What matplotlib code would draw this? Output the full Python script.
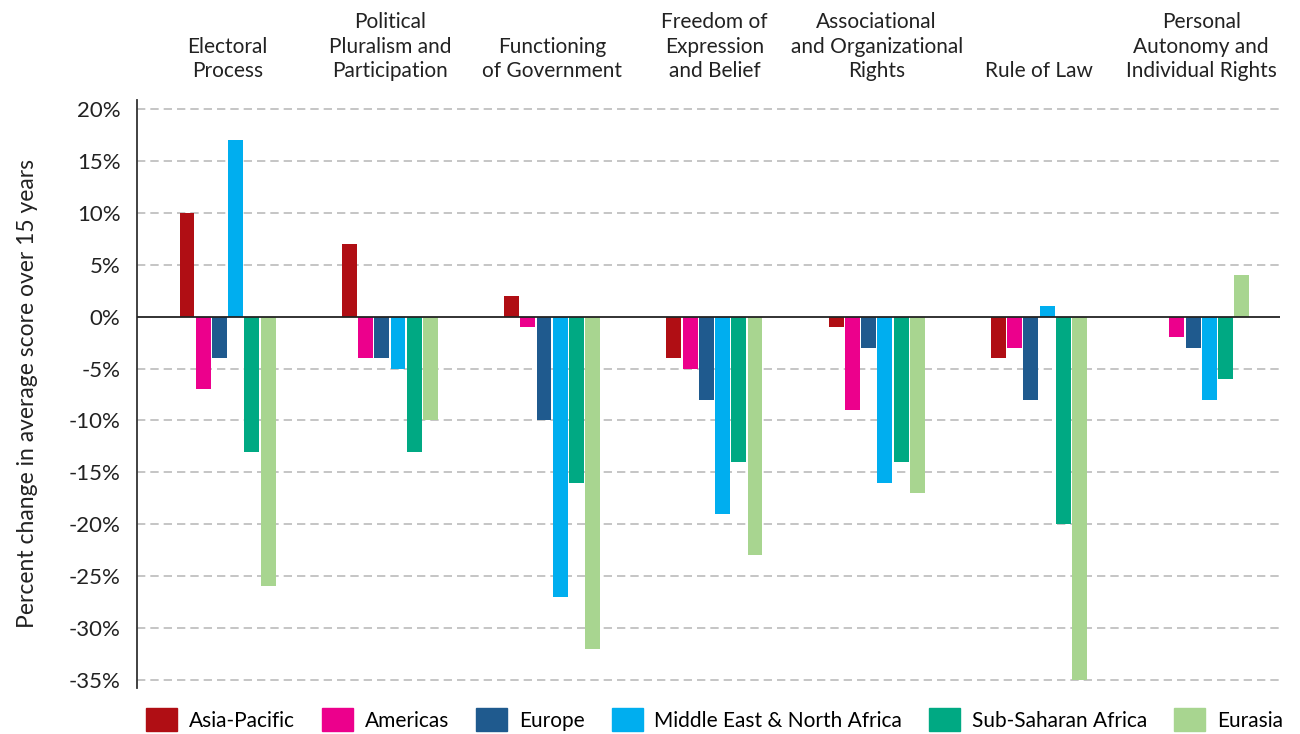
import numpy as np
import matplotlib.pyplot as plt
from matplotlib.patches import Patch

categories = ['Electoral\nProcess', 'Political\nPluralism and\nParticipation',
              'Functioning\nof Government', 'Freedom of\nExpression\nand Belief',
              'Associational\nand Organizational\nRights', 'Rule of Law',
              'Personal\nAutonomy and\nIndividual Rights']
regions = ['Asia-Pacific', 'Americas', 'Europe', 'Middle East & North Africa',
           'Sub-Saharan Africa', 'Eurasia']
asia_pacific = [10, 7, 2, -4, -1, -4, 0]
americas = [-7, -4, -1, -5, -9, -3, -2]
europe = [-4, -4, -10, -8, -3, -8, -3]
mena = [17, -5, -27, -19, -16, 1, -8]
ssa = [-13, -13, -16, -14, -14, -20, -6]
eurasia = [-26, -10, -32, -23, -17, -35, 4]
series = [asia_pacific, americas, europe, mena, ssa, eurasia]
colors = ['#B00E14', '#EC008C', '#1F5A8E', '#00AEEF', '#00A983', '#A8D590']
yticks = list(range(20, -40, -5))

plt.rcParams['font.family'] = ['Lato', 'DejaVu Sans']
fig = plt.figure(figsize=(13, 7.34), dpi=100)
ax = fig.add_axes([0.1054, 0.0627, 0.8792, 0.8011])

x = np.arange(len(categories))
step = 0.1
for i, (vals, c) in enumerate(zip(series, colors)):
    ax.bar(x + (i - 2.5) * step, vals, width=0.092, color=c, zorder=3)

ax.set_xlim(-0.558, 6.485)
ax.set_ylim(-35.8, 20.9)
ax.set_yticks(yticks)
ax.set_yticklabels([f'{t}%' for t in yticks], fontsize=16, color='#222222')
ax.tick_params(axis='y', length=0, pad=12)
ax.set_xticks([])
for t in yticks:
    if t != 0:
        ax.axhline(t, color='#BBBBBB', lw=1.2, ls=(0, (5, 3)), zorder=1)
ax.axhline(0, color='#222222', lw=1.3, zorder=4)
for s in ['top', 'right', 'bottom']:
    ax.spines[s].set_visible(False)
ax.spines['left'].set_color('#333333')
ax.spines['left'].set_linewidth(1.3)
ax.set_ylabel('Percent change in average score over 15 years', fontsize=16.5,
              color='#222222', labelpad=22)

for xi, cat in zip(x, categories):
    ax.text(xi, 22.7, cat, ha='center', va='bottom', fontsize=15,
            color='#222222', linespacing=1.3)

handles = [Patch(color=c) for c in colors]
fig.legend(handles, regions, loc='lower left', bbox_to_anchor=(0.098, -0.022),
           ncol=6, frameon=False, fontsize=15, handlelength=1.5,
           handleheight=1.35, columnspacing=1.3, handletextpad=0.55)

fig.savefig('out.png', dpi=100)
